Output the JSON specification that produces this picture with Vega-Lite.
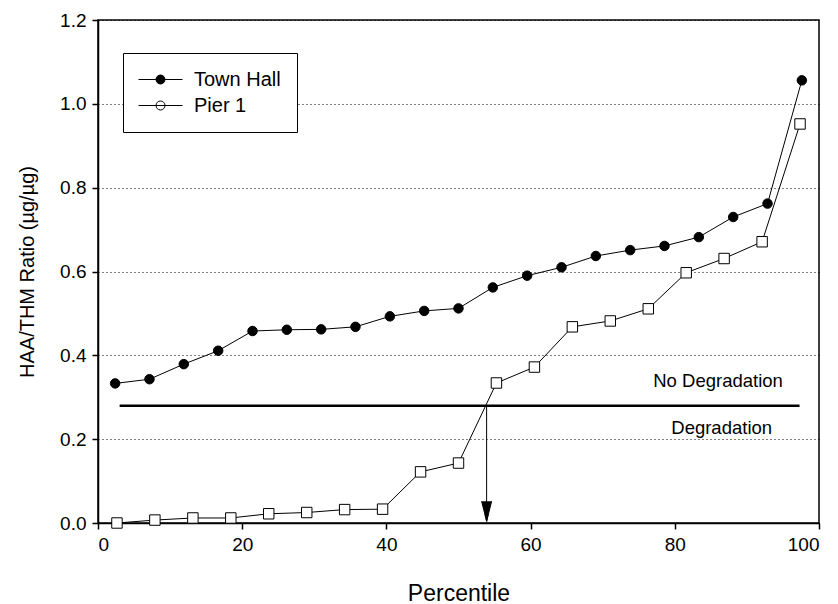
{
  "$schema": "https://vega.github.io/schema/vega-lite/v6.json",
  "width": 721,
  "height": 503,
  "autosize": "none",
  "padding": {"left": 98, "top": 20, "right": 19, "bottom": 81},
  "background": "white",
  "config": {
    "font": "Liberation Sans",
    "view": {"stroke": "black", "strokeWidth": 1.5},
    "axis": {"domainColor": "black", "domainWidth": 1.5, "tickColor": "black", "tickWidth": 1.5, "labelColor": "black", "titleColor": "black", "labelFont": "Liberation Sans", "titleFont": "Liberation Sans", "titleFontWeight": "normal"}
  },
  "datasets": {
    "series": [
      {"series": "Town Hall", "pct": 2.38, "ratio": 0.333},
      {"series": "Town Hall", "pct": 7.14, "ratio": 0.343},
      {"series": "Town Hall", "pct": 11.9, "ratio": 0.379},
      {"series": "Town Hall", "pct": 16.67, "ratio": 0.411},
      {"series": "Town Hall", "pct": 21.43, "ratio": 0.458},
      {"series": "Town Hall", "pct": 26.19, "ratio": 0.461},
      {"series": "Town Hall", "pct": 30.95, "ratio": 0.462},
      {"series": "Town Hall", "pct": 35.71, "ratio": 0.468},
      {"series": "Town Hall", "pct": 40.48, "ratio": 0.493},
      {"series": "Town Hall", "pct": 45.24, "ratio": 0.506},
      {"series": "Town Hall", "pct": 50.0, "ratio": 0.512},
      {"series": "Town Hall", "pct": 54.76, "ratio": 0.562},
      {"series": "Town Hall", "pct": 59.52, "ratio": 0.59},
      {"series": "Town Hall", "pct": 64.29, "ratio": 0.61},
      {"series": "Town Hall", "pct": 69.05, "ratio": 0.637},
      {"series": "Town Hall", "pct": 73.81, "ratio": 0.651},
      {"series": "Town Hall", "pct": 78.57, "ratio": 0.661},
      {"series": "Town Hall", "pct": 83.33, "ratio": 0.682},
      {"series": "Town Hall", "pct": 88.1, "ratio": 0.73},
      {"series": "Town Hall", "pct": 92.86, "ratio": 0.762},
      {"series": "Town Hall", "pct": 97.62, "ratio": 1.056},
      {"series": "Pier 1", "pct": 2.63, "ratio": 0.0},
      {"series": "Pier 1", "pct": 7.89, "ratio": 0.007},
      {"series": "Pier 1", "pct": 13.16, "ratio": 0.012},
      {"series": "Pier 1", "pct": 18.42, "ratio": 0.012},
      {"series": "Pier 1", "pct": 23.68, "ratio": 0.022},
      {"series": "Pier 1", "pct": 28.95, "ratio": 0.025},
      {"series": "Pier 1", "pct": 34.21, "ratio": 0.032},
      {"series": "Pier 1", "pct": 39.47, "ratio": 0.033},
      {"series": "Pier 1", "pct": 44.74, "ratio": 0.122},
      {"series": "Pier 1", "pct": 50.0, "ratio": 0.143},
      {"series": "Pier 1", "pct": 55.26, "ratio": 0.334},
      {"series": "Pier 1", "pct": 60.53, "ratio": 0.372},
      {"series": "Pier 1", "pct": 65.79, "ratio": 0.468},
      {"series": "Pier 1", "pct": 71.05, "ratio": 0.482},
      {"series": "Pier 1", "pct": 76.32, "ratio": 0.511},
      {"series": "Pier 1", "pct": 81.58, "ratio": 0.597},
      {"series": "Pier 1", "pct": 86.84, "ratio": 0.631},
      {"series": "Pier 1", "pct": 92.11, "ratio": 0.671},
      {"series": "Pier 1", "pct": 97.37, "ratio": 0.952}
    ],
    "threshold": [{"x1": 3.0, "x2": 97.3, "y": 0.28}],
    "arrow": [{"x": 53.9, "y1": 0.28, "y2": 0.004, "head": 0.028}],
    "labels": [
      {"x": 86.0, "y": 0.339, "text": "No Degradation"},
      {"x": 86.5, "y": 0.226, "text": "Degradation"}
    ]
  },
  "layer": [
    {
      "data": {"name": "series"},
      "mark": {"type": "line", "color": "black", "strokeWidth": 1},
      "encoding": {
        "x": {"field": "pct", "type": "quantitative", "scale": {"domain": [0, 100], "nice": false},
          "axis": {"values": [0, 20, 40, 60, 80, 100], "title": "Percentile", "grid": false, "tickSize": 6, "labelFontSize": 19, "labelPadding": 6, "titleFontSize": 23, "titlePadding": 28}},
        "y": {"field": "ratio", "type": "quantitative", "scale": {"domain": [0, 1.2], "nice": false},
          "axis": {"values": [0, 0.2, 0.4, 0.6, 0.8, 1.0, 1.2], "format": ".1f", "title": "HAA/THM Ratio (µg/µg)", "grid": true, "gridColor": "black", "gridDash": [1, 3], "gridWidth": 1, "tickSize": 6, "labelFontSize": 19, "labelPadding": 6, "titleFontSize": 20, "titlePadding": 22}},
        "detail": {"field": "series"}
      }
    },
    {
      "data": {"name": "series"},
      "mark": {"type": "point", "filled": false, "stroke": "black", "strokeWidth": 1, "opacity": 1, "size": 90},
      "encoding": {
        "x": {"field": "pct", "type": "quantitative"},
        "y": {"field": "ratio", "type": "quantitative"},
        "fill": {"field": "series", "type": "nominal", "scale": {"domain": ["Town Hall", "Pier 1"], "range": ["black", "white"]},
          "legend": {"title": null, "orient": "none", "legendX": 25, "legendY": 33, "strokeColor": "black", "fillColor": "white", "padding": 16, "labelFontSize": 20, "labelColor": "black", "symbolSize": 400, "symbolOffset": 11, "labelOffset": 23, "rowPadding": 5, "symbolStrokeWidth": 1, "symbolStrokeColor": "black",
            "symbolType": "M-2.2,0H2.2M-0.45,0A0.45,0.45 0 1,0 0.45,0A0.45,0.45 0 1,0 -0.45,0Z",
            "encode": {"symbols": {
              "shape": {"value": {"signal": "datum.value === 'Town Hall' ? 'M-2.2,0H2.2M-0.45,0A0.45,0.45 0 1,0 0.45,0A0.45,0.45 0 1,0 -0.45,0Z' : 'M-2.2,0H-0.55M0.55,0H2.2M-0.55,-0.55H0.55V0.55H-0.55Z'"}},
              "stroke": {"value": "black"},
              "strokeWidth": {"value": 1},
              "opacity": {"value": 1},
              "size": {"value": 400}
            }}}},
        "shape": {"condition": {"test": "datum.series === 'Pier 1'", "value": "M-1.1,-1.1H1.1V1.1H-1.1Z"}, "value": "circle"}
      }
    },
    {
      "data": {"name": "threshold"},
      "mark": {"type": "rule", "color": "black", "strokeWidth": 2.5},
      "encoding": {
        "x": {"field": "x1", "type": "quantitative"},
        "x2": {"field": "x2"},
        "y": {"field": "y", "type": "quantitative"}
      }
    },
    {
      "data": {"name": "arrow"},
      "mark": {"type": "rule", "color": "black", "strokeWidth": 1},
      "encoding": {
        "x": {"field": "x", "type": "quantitative"},
        "y": {"field": "y1", "type": "quantitative"},
        "y2": {"field": "y2"}
      }
    },
    {
      "data": {"name": "arrow"},
      "mark": {"type": "point", "shape": "M-0.5,-1L0,1L0.5,-1M-0.15,0.35L0,1L0.15,0.35Z", "filled": false, "stroke": "black", "strokeWidth": 1, "size": 400, "opacity": 1, "fill": "black"},
      "encoding": {
        "x": {"field": "x", "type": "quantitative"},
        "y": {"field": "head", "type": "quantitative"}
      }
    },
    {
      "data": {"name": "labels"},
      "mark": {"type": "text", "fontSize": 18.5, "color": "black", "align": "center", "baseline": "middle", "font": "Liberation Sans"},
      "encoding": {
        "x": {"field": "x", "type": "quantitative"},
        "y": {"field": "y", "type": "quantitative"},
        "text": {"field": "text"}
      }
    }
  ]
}
